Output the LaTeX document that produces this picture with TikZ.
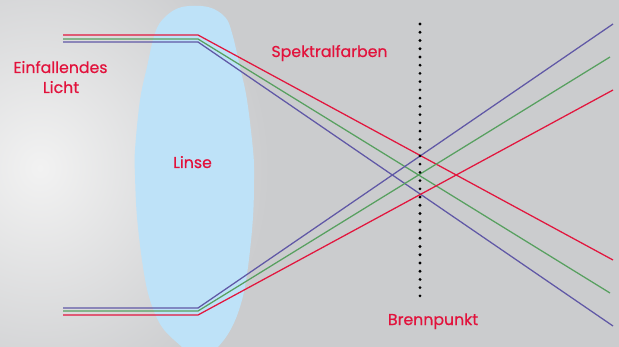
\documentclass[tikz,border=0pt]{standalone}
\usepackage{fontspec}
\newfontfamily\labelfont{Poppins}[FakeBold=0.5]
\definecolor{bggray}{RGB}{203,204,206}
\definecolor{glow}{RGB}{242,242,242}
\definecolor{lensblue}{RGB}{190,226,248}
\definecolor{txtred}{RGB}{226,18,60}
\definecolor{rayred}{RGB}{226,22,62}
\definecolor{raygreen}{RGB}{88,160,96}
\definecolor{rayblue}{RGB}{96,88,166}

\begin{document}
\begin{tikzpicture}[x=0.025cm,y=-0.025cm,
	txt/.style={text=txtred, anchor=base, font=\labelfont\fontsize{11.2}{13}\selectfont},
	ray/.style={line width=0.9pt},
	dotline/.style={line width=2.2pt, line cap=round, dash pattern=on 0pt off 5.86pt}]

	\useasboundingbox (0,0) rectangle (619,347);
	\clip (0,0) rectangle (619,347);
	\fill[bggray] (0,0) rectangle (619,347);
	\shade[inner color=glow, outer color=bggray] (40,168) ellipse (230 and 250);

	% Linse
	\fill[lensblue] plot[smooth cycle, tension=0.6] coordinates {(208,7) (225,17) (232,33) (240,67) (247,100) (253,150) (254,175) (253,217) (248,267) (242,300) (232,327) (218,347) (200,362) (182,347) (162,327) (150,300) (143,267) (137,217) (135,175) (135,150) (140,100) (147,67) (155,33) (165,17) (182,7)};

	% Strahlen oben
	\coordinate (R1) at (63,35);  \coordinate (R2) at (198,35);  \coordinate (R3) at (613,260);
	\coordinate (G1) at (63,39);  \coordinate (G2) at (198,39);  \coordinate (G3) at (610,293);
	\coordinate (B1) at (63,42);  \coordinate (B2) at (198,42);  \coordinate (B3) at (613,326);
	% Strahlen unten
	\coordinate (r1) at (63,315); \coordinate (r2) at (198,315); \coordinate (r3) at (613,90);
	\coordinate (g1) at (63,311); \coordinate (g2) at (198,311); \coordinate (g3) at (610,57);
	\coordinate (b1) at (63,308); \coordinate (b2) at (198,308); \coordinate (b3) at (613,24);

	\draw[ray, rayred]   (R1) -- (R2) -- (R3);
	\draw[ray, raygreen] (G1) -- (G2) -- (G3);
	\draw[ray, rayblue]  (B1) -- (B2) -- (B3);
	\draw[ray, rayblue]  (b1) -- (b2) -- (b3);
	\draw[ray, raygreen] (g1) -- (g2) -- (g3);
	\draw[ray, rayred]   (r1) -- (r2) -- (r3);

	% Brennebene
	\coordinate (F1) at (420,24);
	\coordinate (F2) at (420,303);
	\draw[dotline] (F1) -- (F2);

	\node[txt] (einf) at (60.5,73) {Einfallendes};
	\node[txt] (licht) at (61,93) {Licht};
	\node[txt] (spek) at (329.5,57) {Spektralfarben};
	\node[txt] (linse) at (192.5,168) {Linse};
	\node[txt] (brenn) at (433,325) {Brennpunkt};

\end{tikzpicture}
\end{document}
